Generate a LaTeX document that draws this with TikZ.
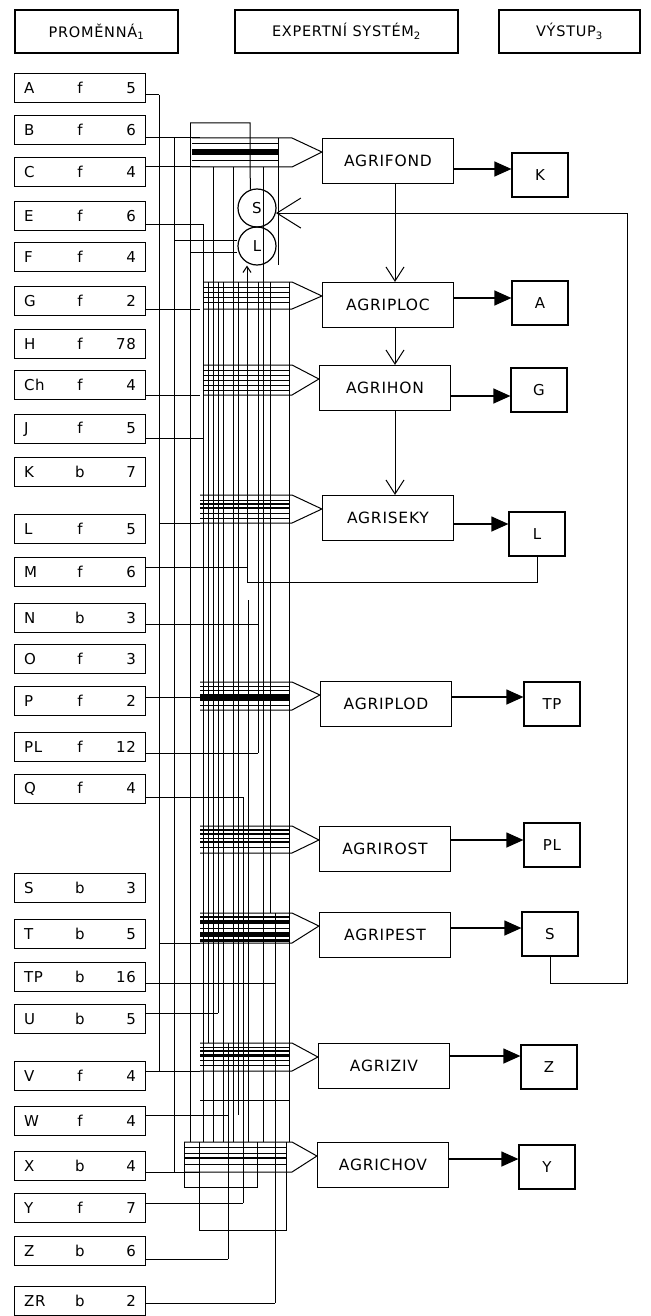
\documentclass[tikz,border=0pt]{standalone}
\usepackage{fontspec}
\setmainfont{DejaVu Sans}[LetterSpace=5]
\usetikzlibrary{arrows.meta,positioning}

\begin{document}
\begin{tikzpicture}[x=1pt, y=-1pt, line width=1pt,
  title/.style={draw, line width=1.2pt, minimum height=43pt, font=\fontsize{14.5}{16}\selectfont},
  varbox/.style={draw, line width=1.2pt, minimum height=29pt, text width=112pt,
    inner xsep=9.5pt, inner ysep=0pt, font=\fontsize{15}{16}\selectfont},
  expert/.style={draw, line width=1.2pt, minimum width=131pt, minimum height=45pt,
    font=\fontsize{15.5}{17}\selectfont},
  outbox/.style={draw, line width=1.2pt, minimum width=56pt, minimum height=44pt,
    font=\fontsize{15}{17}\selectfont},
  station/.style={draw, circle, line width=1.2pt, minimum size=38pt, inner sep=0pt,
    font=\fontsize{15}{17}\selectfont},
  result/.style={line width=1.2pt, -{Triangle[length=17pt, width=15pt]}},
  chain/.style={line width=1pt, -{Straight Barb[length=14pt, width=18pt]}},
  back/.style={line width=1pt, -{Straight Barb[length=24pt, width=30pt]}},
]
\useasboundingbox (0,0) rectangle (650,1316);

% hlavicka
\node[title, minimum width=163pt] (h1) at (96.5,31.5) {PROMĚNNÁ\textsubscript{1}};
\node[title, minimum width=223pt] (h2) at (346.5,31.5) {EXPERTNÍ SYSTÉM\textsubscript{2}};
\node[title, minimum width=141pt] (h3) at (569.5,31.5) {VÝSTUP\textsubscript{3}};

% promenne
\foreach \nm/\ty/\vl/\yy in {A/f/5/88, B/f/6/130, C/f/4/172, E/f/6/216, F/f/4/257,
    G/f/2/301, H/f/78/344, Ch/f/4/385, J/f/5/429, K/b/7/472, L/f/5/529, M/f/6/572,
    N/b/3/618, O/f/3/659, P/f/2/701, PL/f/12/747, Q/f/4/789, S/b/3/888, T/b/5/934,
    TP/b/16/977, U/b/5/1019, V/f/4/1076, W/f/4/1121, X/b/4/1166, Y/f/7/1208,
    Z/b/6/1251, ZR/b/2/1301}
  \node[varbox] (v\nm) at (80,\yy) {\rlap{\nm}\hfill\ty\hfill\llap{\vl}};

% expertni systemy
\node[expert] (fond) at (388,161) {AGRIFOND};
\node[expert] (ploc) at (388,305) {AGRIPLOC};
\node[expert] (hon)  at (385,388) {AGRIHON};
\node[expert] (seky) at (388,518) {AGRISEKY};
\node[expert] (plod) at (386,704) {AGRIPLOD};
\node[expert] (rost) at (385,849) {AGRIROST};
\node[expert] (pest) at (385,935) {AGRIPEST};
\node[expert] (ziv)  at (384,1066) {AGRIZIV};
\node[expert] (chov) at (383,1165) {AGRICHOV};

% vystupy
\node[outbox] (oK)  at (540,175)  {K};
\node[outbox] (oA)  at (540,303)  {A};
\node[outbox] (oG)  at (539,390)  {G};
\node[outbox] (oL)  at (537,534)  {L};
\node[outbox] (oTP) at (552,704)  {TP};
\node[outbox] (oPL) at (552,845)  {PL};
\node[outbox] (oS)  at (550,934)  {S};
\node[outbox] (oZ)  at (549,1067) {Z};
\node[outbox] (oY)  at (547,1167) {Y};

\node[station] (cS) at (257,208) {S};
\node[station] (cL) at (257,246) {L};

% sbernice - svisle vodice
\foreach \xx/\ya/\yb in {159/95/1071, 174/138/1172, 190/123/1142, 203/224/1142,
    208/282/1043, 213/167/1142, 218/282/1013, 223/282/1142, 228/1043/1259,
    233/167/1142, 238/282/1115, 243/797/1203, 248/600/1142, 258/282/753,
    263/167/1142, 270/282/913, 275/913/1303, 278/138/265, 289/282/1142}
  \draw (\xx,\ya) -- (\xx,\yb);

% trychtyre
\foreach \e/\xl/\ya/\yb in {fond/192/138/167, ploc/203/282/309, hon/203/365/395,
    seky/200/495/523, plod/200/682/710, rost/200/826/853, pest/200/913/943,
    ziv/200/1043/1071, chov/184/1142/1172}
  \draw (\xl,\ya) -- (292,\ya) -- ([yshift=9pt]\e.west) -- (292,\yb) -- (\xl,\yb);

\foreach \xa/\xb/\yy/\w in {192/278/143/0.7, 192/278/152/6, 192/278/160/0.7,
    203/289/287/0.8, 203/289/292/0.8, 203/289/297/0.8, 203/289/302/0.8,
    203/289/370/0.8, 203/289/375/0.8, 203/289/380/0.8, 203/289/385/0.8, 203/289/390/0.8,
    200/289/500/0.8, 200/289/504/1.5, 200/289/508/2, 200/289/513/0.8, 200/289/518/0.8,
    200/289/686/0.8, 200/289/690/0.8, 200/289/697/7, 200/289/705/0.8,
    200/289/830/1.2, 200/289/834/1.2, 200/289/838/0.8, 200/289/842/1.2, 200/289/847/0.8,
    200/289/917/1.2, 200/289/922/4, 200/289/928/1, 200/289/934/5, 200/289/940/3,
    200/289/1047/0.8, 200/289/1051/1.2, 200/289/1055/3, 200/289/1060/0.8, 200/289/1065/0.8,
    184/287/1147/0.8, 184/287/1153/0.8, 184/287/1158/1.2, 184/287/1164/0.8,
    200/289/1100/0.9}
  \draw[line width=\w pt] (\xa,\yy) -- (\xb,\yy);

% pripojeni promennych
\foreach \nm/\yy in {B/138, C/167, G/309, Ch/395, P/697, V/1071, X/1172}
  \draw (v\nm.east |- 0,\yy) -- (200,\yy);
\foreach \nm/\yy/\xx in {A/95/159, E/224/203, J/438/203, M/567/247, N/624/258,
    PL/753/258, Q/797/243, TP/983/275, U/1013/218, W/1115/228, Y/1203/243,
    Z/1259/228, ZR/1303/275}
  \draw (v\nm.east |- 0,\yy) -- (\xx,\yy);
\draw (159,523) -- (200,523);
\draw (159,943) -- (200,943);

% smycky
\draw (190,123) -- (250,123) -- (cS.110);
\draw (174,240) -- (cL.west |- 0,240);
\draw (190,252) -- (cL.west |- 0,252);
\draw (184,1142) -- (184,1187) -- (257,1187) -- (257,1142);
\draw (199,1142) -- (199,1230) -- (286,1230) -- (286,1142);

% vystupy a navaznosti
\foreach \e/\o/\yy in {fond/oK/169, ploc/oA/298, hon/oG/396, seky/oL/524, plod/oTP/697,
    rost/oPL/840, pest/oS/928, ziv/oZ/1056, chov/oY/1159}
  \draw[result] (\e.east |- 0,\yy) -- (\o.west |- 0,\yy);

\draw[chain] ([xshift=7pt]fond.south) -- ([xshift=7pt]ploc.north);
\draw[chain] ([xshift=7pt]ploc.south) -- ([xshift=10pt]hon.north);
\draw[chain] ([xshift=10pt]hon.south) -- ([xshift=7pt]seky.north);

% zpetne vazby
\draw[back] (oS.south) |- (627,983) |- (cS.-15);
\draw[line width=1pt, -{Straight Barb[length=6pt, width=8pt]}]
  (oL.south) |- (247,582) -- (cL.south -| 247,0);
\end{tikzpicture}
\end{document}
